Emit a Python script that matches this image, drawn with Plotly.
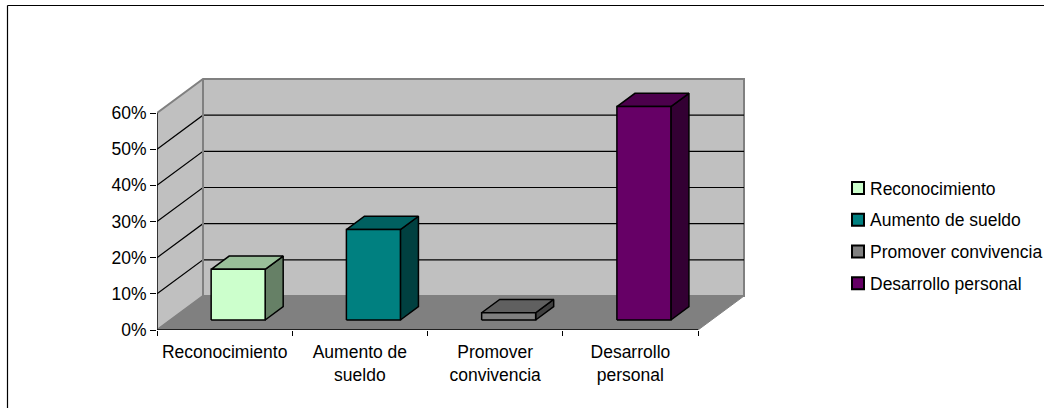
import plotly.graph_objects as go

categories = ["Reconocimiento", "Aumento de sueldo", "Promover convivencia", "Desarrollo personal"]
tick_labels = ["Reconocimiento", "Aumento de<br>sueldo", "Promover<br>convivencia", "Desarrollo<br>personal"]
values = [14, 25, 2, 59]
front_colors = ["#CCFFCC", "#008080", "#808080", "#660066"]
top_colors = ["#99BF99", "#006060", "#606060", "#4C004C"]
side_colors = ["#668066", "#004040", "#404040", "#330033"]
y_ticks = [0, 10, 20, 30, 40, 50, 60]
y_tick_labels = ["0%", "10%", "20%", "30%", "40%", "50%", "60%"]

W, H = 1044, 408
X0, X4, Y0, Y60 = 157, 698, 330, 113
DX_PX, DY_PX = 46, 34
px_x = (X4 - X0) / 4
px_y = (Y0 - Y60) / 60
DX, DY = DX_PX / px_x, DY_PX / px_y
XMAX, YMAX = 4 + DX, 60 + DY
BAR_W = 54 / px_x
D_FRONT, D_BACK = 0.294, 0.686
X_END = (W - X0) / px_x
Y_END = Y0 / px_y


def poly(xs, ys, fill, line, width):
    return go.Scatter(x=xs, y=ys, mode="lines", fill="toself", fillcolor=fill,
                      line=dict(color=line, width=width), hoverinfo="skip",
                      showlegend=False, cliponaxis=False)


def seg(xs, ys, color, width):
    return go.Scatter(x=xs, y=ys, mode="lines", line=dict(color=color, width=width),
                      hoverinfo="skip", showlegend=False, cliponaxis=False)


fig = go.Figure()
WALL, EDGE = "#C0C0C0", "#808080"
fig.add_trace(poly([0, DX, XMAX, XMAX, DX, 0, 0], [0, DY, DY, YMAX, YMAX, 60, 0], WALL, EDGE, 2))
fig.add_trace(poly([0, 4, XMAX, DX, 0], [0, 0, DY, DY, 0], EDGE, EDGE, 1))
for t in y_ticks[1:-1]:
    fig.add_trace(seg([0, DX, XMAX], [t, t + DY, t + DY], "#000000", 1.2))
fig.add_trace(seg([DX, DX], [DY, YMAX], EDGE, 2))
fig.add_trace(seg([0, 0], [0, 60], "#000000", 1.2))
fig.add_trace(seg([0, 4], [0, 0], "#000000", 1.4))

for i, v in enumerate(values):
    xl = i + 0.5 - BAR_W / 2 + D_FRONT * DX
    xr = xl + BAR_W
    yb = D_FRONT * DY
    yt = yb + v
    ox = (D_BACK - D_FRONT) * DX
    oy = (D_BACK - D_FRONT) * DY
    fig.add_trace(poly([xr, xr + ox, xr + ox, xr, xr], [yb, yb + oy, yt + oy, yt, yb], side_colors[i], "#000000", 1.5))
    fig.add_trace(poly([xl, xr, xr + ox, xl + ox, xl], [yt, yt, yt + oy, yt + oy, yt], top_colors[i], "#000000", 1.5))
    fig.add_trace(poly([xl, xr, xr, xl, xl], [yb, yb, yt, yt, yb], front_colors[i], "#000000", 1.5))

for i, c in enumerate(categories):
    fig.add_trace(go.Scatter(x=[None], y=[None], mode="markers", name=c, legendgroup=c,
                             marker=dict(symbol="square", size=9, color=front_colors[i],
                                         line=dict(color="#000000", width=1.5))))

FONT = dict(family="Liberation Sans", size=17.5, color="#000000")
fig.update_layout(
    width=W, height=H, autosize=False,
    margin=dict(l=X0, r=0, t=0, b=H - Y0, pad=0, autoexpand=False),
    paper_bgcolor="#FFFFFF", plot_bgcolor="rgba(0,0,0,0)", font=FONT,
    xaxis=dict(range=[0, X_END], tickvals=[0, 1, 2, 3, 4], ticktext=["", "", "", "", ""],
               ticks="outside", ticklen=5, tickwidth=1.2, tickcolor="#000000",
               showgrid=False, zeroline=False, showline=False),
    xaxis2=dict(range=[0, X_END], overlaying="x", side="bottom", anchor="y",
                tickvals=[0.5, 1.5, 2.5, 3.5], ticktext=tick_labels, ticks="outside",
                ticklen=6, tickcolor="rgba(0,0,0,0)", showgrid=False, zeroline=False, showline=False),
    yaxis=dict(range=[0, Y_END], tickvals=y_ticks, ticktext=y_tick_labels, ticks="outside", ticklen=6,
               tickwidth=1.2, tickcolor="#000000", showgrid=False, zeroline=False, showline=False),
    legend=dict(x=(830 - X0) / (W - X0), y=(Y0 - 235.5) / Y0, font=FONT, traceorder="grouped", tracegroupgap=6,
                itemsizing="constant", bgcolor="rgba(0,0,0,0)", xanchor="left", yanchor="middle"),
    shapes=[
        dict(type="line", xref="paper", yref="paper",
             x0=(7.5 - X0) / (W - X0), x1=1, y0=(Y0 - 5.5) / Y0, y1=(Y0 - 5.5) / Y0,
             line=dict(color="#000000", width=1.2), layer="below"),
        dict(type="line", xref="paper", yref="paper",
             x0=(7.5 - X0) / (W - X0), x1=(7.5 - X0) / (W - X0), y0=(Y0 - H) / Y0, y1=(Y0 - 5.5) / Y0,
             line=dict(color="#000000", width=1.2), layer="below"),
    ],
)
fig.add_trace(go.Scatter(x=[0.5], y=[0], xaxis="x2", mode="markers", marker=dict(opacity=0),
                         hoverinfo="skip", showlegend=False))
fig.write_html(
    "out.html",
    config=dict(displayModeBar=False),
    post_script="document.body.style.margin='0';"
                "document.querySelectorAll('.legendsymbols').forEach(function(s){s.setAttribute('transform','translate(8,0)');});",
)
